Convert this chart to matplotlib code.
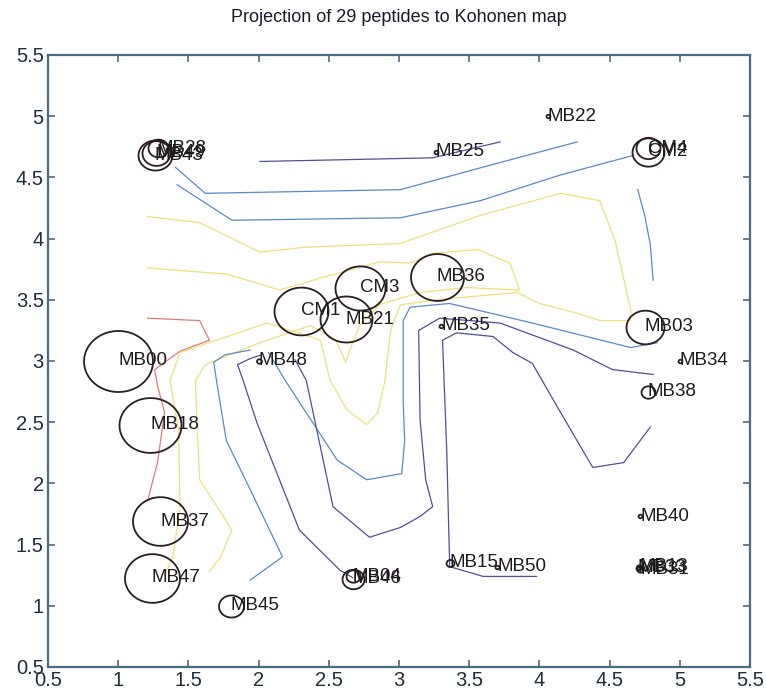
import numpy as np
import matplotlib
matplotlib.use('Agg')
import matplotlib.pyplot as plt
from matplotlib.path import Path
from matplotlib import font_manager

# --- peptides projected on the map (name, position, circle width in px) ---
names = ['MB00', 'MB18', 'MB37', 'MB47', 'MB45', 'MB04', 'MB46', 'MB48',
         'CM1', 'MB21', 'CM3', 'MB36', 'MB35', 'MB25', 'MB22', 'CM4', 'CM2',
         'MB03', 'MB34', 'MB38', 'MB40', 'MB15', 'MB50', 'MB13', 'MB31',
         'MB33', 'MB28', 'MB43', 'MB49']
pos_x = [1.00, 1.23, 1.30, 1.24, 1.80, 2.67, 2.67, 2.00,
         2.30, 2.62, 2.72, 3.27, 3.30, 3.26, 4.06, 4.77, 4.77,
         4.75, 5.00, 4.77, 4.72, 3.36, 3.70, 4.71, 4.72,
         4.70, 1.28, 1.26, 1.27]
pos_y = [3.00, 2.48, 1.69, 1.23, 1.00, 1.24, 1.22, 3.00,
         3.41, 3.34, 3.60, 3.69, 3.29, 4.71, 5.00, 4.74, 4.71,
         3.28, 3.00, 2.75, 1.73, 1.35, 1.32, 1.32, 1.30,
         1.31, 4.74, 4.68, 4.70]
circ_w = [69, 62, 55, 55, 25, 14, 22, 5,
          54, 52, 50, 53, 4, 4, 4, 24, 32,
          38, 4, 14, 4, 8, 4, 5, 7,
          4, 20, 34, 28]

# --- contour lines of the map ---
red_x = [1.21, 1.58, 1.65, 1.44, 1.26, 1.28, 1.33, 1.28, 1.21]
red_y = [3.35, 3.33, 3.17, 3.08, 2.93, 2.80, 2.58, 2.17, 1.86]

yel1_x = [1.21, 1.58, 2.01, 2.34, 3.01, 3.58, 4.15, 4.43, 4.54, 4.65, 4.65,
          4.43, 4.27, 4.00, 3.84, 3.27, 3.01, 2.94, 2.90, 2.85, 2.77, 2.63,
          2.51, 2.44, 2.06, 1.44, 1.37, 1.43, 1.44, 1.39, 1.33]
yel1_y = [4.18, 4.13, 3.89, 3.93, 3.96, 4.19, 4.37, 4.31, 3.98, 3.42, 3.33,
          3.33, 3.39, 3.47, 3.56, 3.50, 3.46, 3.25, 2.84, 2.58, 2.48, 2.60,
          2.84, 3.17, 3.31, 3.07, 2.84, 2.44, 1.81, 1.40, 1.25]

yel2_x = [1.21, 1.77, 2.15, 2.51, 2.86, 3.08, 3.24, 3.56, 3.79, 3.86, 3.48,
          3.15, 2.86, 2.72, 2.65, 2.62, 2.55, 2.37, 2.01, 1.62, 1.55, 1.56,
          1.58, 1.81, 1.73, 1.65]
yel2_y = [3.76, 3.71, 3.58, 3.70, 3.81, 3.80, 3.88, 3.91, 3.80, 3.58, 3.60,
          3.56, 3.46, 3.29, 3.09, 2.99, 3.17, 3.29, 3.15, 2.97, 2.84, 2.52,
          2.03, 1.62, 1.40, 1.28]

navA_x = [2.01, 3.24, 3.72]
navA_y = [4.63, 4.66, 4.79]

bluB_x = [1.41, 1.62, 3.01, 3.65, 4.27]
bluB_y = [4.58, 4.37, 4.40, 4.60, 4.79]

bluC_x = [1.42, 1.81, 3.01, 3.58, 4.15, 4.67]
bluC_y = [4.44, 4.15, 4.17, 4.31, 4.52, 4.68]

bluD_x = [4.70, 4.75, 4.79, 4.81]
bluD_y = [4.40, 4.19, 3.95, 3.66]

bluE_x = [4.84, 4.65, 3.95, 3.36, 3.08, 3.03, 3.03, 3.04, 3.02, 2.77, 2.56,
          2.19, 2.07]
bluE_y = [3.15, 3.11, 3.31, 3.47, 3.44, 3.33, 2.68, 2.35, 2.08, 2.03, 2.19,
          2.84, 3.07]

navF_x = [4.81, 4.52, 4.24, 3.72, 3.29, 3.14, 3.15, 3.19, 3.24, 3.15, 3.01,
          2.79, 2.53, 2.34, 2.26]
navF_y = [2.89, 2.93, 3.09, 3.31, 3.35, 3.25, 2.52, 2.03, 1.81, 1.73, 1.64,
          1.56, 1.81, 2.84, 3.01]

navG_x = [4.79, 4.60, 4.38, 4.10, 3.95, 3.81, 3.67, 3.41, 3.31, 3.34, 3.36,
          3.36, 3.60, 3.98]
navG_y = [2.46, 2.17, 2.13, 2.68, 2.98, 3.07, 3.20, 3.23, 3.17, 2.27, 1.37,
          1.32, 1.24, 1.24]

bluH_x = [1.94, 2.17, 1.94, 1.77, 1.70, 1.68, 1.76, 1.94]
bluH_y = [1.21, 1.40, 1.95, 2.35, 2.84, 2.99, 3.05, 3.09]

navI_x = [2.67, 2.58, 2.29, 1.99, 1.89, 1.85, 1.94, 2.02]
navI_y = [1.23, 1.29, 1.62, 2.49, 2.84, 2.97, 3.02, 3.05]

ticks = [0.5, 1, 1.5, 2, 2.5, 3, 3.5, 4, 4.5, 5, 5.5]
tick_labels = ['0.5', '1', '1.5', '2', '2.5', '3', '3.5', '4', '4.5', '5', '5.5']


def draw_map():
    fig = plt.figure(figsize=(7.66, 6.93), dpi=100)
    ax = fig.add_axes([48 / 766, 26 / 693, 702 / 766, 612 / 693])

    c_red = '#e07a7a'
    c_yel = '#efe07a'
    c_blu = '#5a88c8'
    c_nav = '#4e509a'
    lw = 0.9

    ax.plot(red_x, red_y, color=c_red, lw=lw)
    ax.plot(yel1_x, yel1_y, color=c_yel, lw=lw)
    ax.plot(yel2_x, yel2_y, color=c_yel, lw=lw)
    ax.plot(navA_x, navA_y, color=c_nav, lw=lw)
    ax.plot(bluB_x, bluB_y, color=c_blu, lw=lw)
    ax.plot(bluC_x, bluC_y, color=c_blu, lw=lw)
    ax.plot(bluD_x, bluD_y, color=c_blu, lw=lw)
    ax.plot(bluE_x, bluE_y, color=c_blu, lw=lw)
    ax.plot(navF_x, navF_y, color=c_nav, lw=lw)
    ax.plot(navG_x, navG_y, color=c_nav, lw=lw)
    ax.plot(bluH_x, bluH_y, color=c_blu, lw=lw)
    ax.plot(navI_x, navI_y, color=c_nav, lw=lw)

    # slightly flattened circles, like in the original screenshot
    t = np.linspace(0, 2 * np.pi, 72)
    ell = Path(np.column_stack([1.13 * np.cos(t), np.sin(t)]))

    installed = {f.name for f in font_manager.fontManager.ttflist}
    if 'Liberation Sans Narrow' in installed:
        lab_font, lab_size = ['Liberation Sans Narrow', 'DejaVu Sans'], 16
    else:
        lab_font, lab_size = ['Liberation Sans', 'DejaVu Sans'], 13.5

    for n, x, y, w in zip(names, pos_x, pos_y, circ_w):
        ax.plot(x, y, marker=ell, ms=w * 0.72, mfc='none', mec='#2a1e22',
                mew=1.3, clip_on=False)
        ax.text(x, y, n, ha='left', va='center', fontsize=lab_size,
                family=lab_font, color='#1e1a1e', clip_on=False)

    ax.set_xlim(0.5, 5.5)
    ax.set_ylim(0.5, 5.5)
    ax.set_xticks(ticks)
    ax.set_yticks(ticks)
    ax.set_xticklabels(tick_labels)
    ax.set_yticklabels(tick_labels)

    axis_col = '#4c6a80'
    for s in ax.spines.values():
        s.set_color(axis_col)
        s.set_linewidth(1.6)
    ax.tick_params(direction='in', top=True, right=True, length=5,
                   width=1.2, color=axis_col, labelcolor='#1f2d3a',
                   labelsize=14.5, pad=3)
    for lab in ax.get_xticklabels() + ax.get_yticklabels():
        lab.set_family(['Liberation Sans', 'DejaVu Sans'])

    fig.text(399 / 766, 1 - 18 / 693, 'Projection of 29 peptides to Kohonen map',
             ha='center', va='center', fontsize=13, color='#1a1a2a',
             family=['Liberation Sans', 'DejaVu Sans'])

    fig.savefig('out.png', dpi=100)


if __name__ == "__main__":
    draw_map()
